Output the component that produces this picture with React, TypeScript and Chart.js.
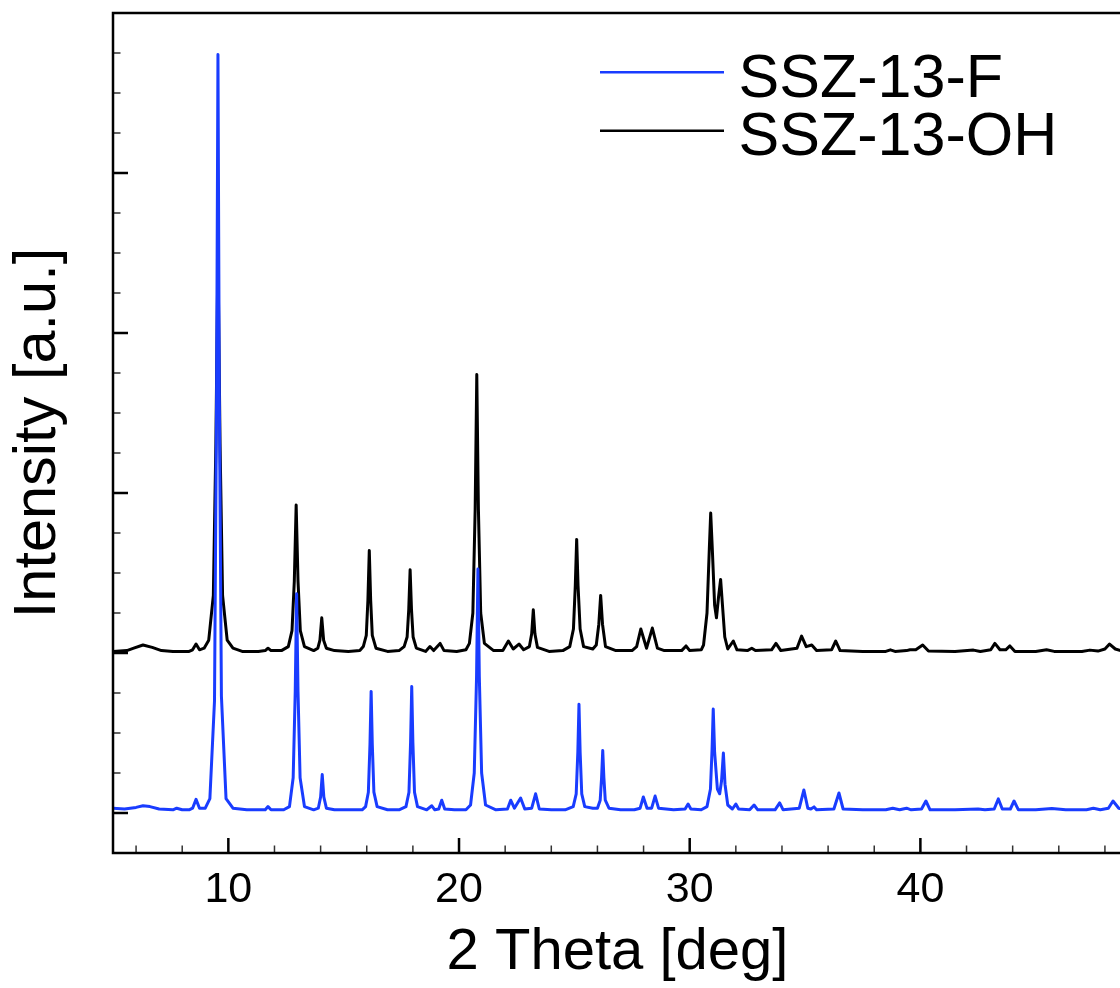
import React, { useEffect, useRef } from 'react';
import { Chart, registerables } from 'chart.js';

Chart.register(...registerables);

// ---------- data ----------
const seriesLabels = ['SSZ-13-F', 'SSZ-13-OH'];
const seriesColors = ['rgb(25,60,255)', '#000000'];

// [2θ (deg), intensity (a.u., offset)]
const ssz13F: [number, number][] = [
  [5.0, 0.03], [5.5, 0.025], [6.0, 0.035], [6.3, 0.045], [6.6, 0.04], [7.0, 0.025], [7.6, 0.02],
  [7.76, 0.03], [8.0, 0.02], [8.3, 0.02], [8.45, 0.03], [8.6, 0.085], [8.75, 0.03], [9.0, 0.03],
  [9.2, 0.09], [9.4, 0.7], [9.49, 2.6], [9.55, 4.74], [9.61, 2.6], [9.7, 0.73], [9.9, 0.09],
  [10.2, 0.03], [10.8, 0.02], [11.3, 0.02], [11.6, 0.02], [11.72, 0.04], [11.85, 0.02], [12.4, 0.02],
  [12.65, 0.04], [12.81, 0.22], [12.9, 0.76], [12.96, 1.37], [13.02, 0.76], [13.11, 0.22], [13.3, 0.04],
  [13.7, 0.02], [13.9, 0.03], [14.0, 0.1], [14.07, 0.24], [14.14, 0.1], [14.25, 0.03], [14.6, 0.02],
  [15.2, 0.02], [15.8, 0.02], [15.95, 0.04], [16.07, 0.13], [16.14, 0.43], [16.19, 0.76], [16.24, 0.43],
  [16.31, 0.13], [16.45, 0.04], [16.9, 0.02], [17.4, 0.02], [17.7, 0.04], [17.83, 0.13], [17.9, 0.44],
  [17.95, 0.79], [18.0, 0.44], [18.07, 0.13], [18.2, 0.04], [18.6, 0.02], [18.82, 0.045], [18.95, 0.02],
  [19.12, 0.025], [19.25, 0.08], [19.38, 0.025], [19.8, 0.02], [20.3, 0.02], [20.5, 0.05], [20.66, 0.25],
  [20.76, 0.85], [20.82, 1.525], [20.88, 0.85], [20.98, 0.25], [21.15, 0.05], [21.6, 0.02], [22.1, 0.025],
  [22.24, 0.08], [22.4, 0.03], [22.67, 0.094], [22.85, 0.025], [23.15, 0.03], [23.32, 0.12], [23.48, 0.025],
  [24.0, 0.02], [24.6, 0.02], [24.95, 0.04], [25.08, 0.12], [25.15, 0.38], [25.2, 0.68], [25.25, 0.38],
  [25.32, 0.12], [25.45, 0.04], [25.8, 0.03], [26.0, 0.03], [26.12, 0.08], [26.18, 0.22], [26.23, 0.39],
  [26.28, 0.22], [26.34, 0.08], [26.5, 0.03], [27.0, 0.02], [27.6, 0.02], [27.85, 0.03], [27.99, 0.1],
  [28.15, 0.03], [28.35, 0.03], [28.5, 0.106], [28.65, 0.03], [29.3, 0.02], [29.8, 0.025], [29.93, 0.056],
  [30.05, 0.025], [30.5, 0.02], [30.75, 0.04], [30.9, 0.15], [30.97, 0.4], [31.02, 0.65], [31.08, 0.38],
  [31.2, 0.15], [31.3, 0.12], [31.38, 0.2], [31.46, 0.375], [31.53, 0.18], [31.65, 0.05], [31.85, 0.025],
  [32.0, 0.056], [32.12, 0.025], [32.6, 0.02], [32.79, 0.05], [32.95, 0.02], [33.7, 0.02], [33.9, 0.063],
  [34.05, 0.02], [34.75, 0.03], [34.95, 0.144], [35.12, 0.03], [35.25, 0.025], [35.39, 0.038], [35.5, 0.02],
  [36.25, 0.025], [36.47, 0.125], [36.65, 0.025], [37.5, 0.02], [38.5, 0.02], [38.8, 0.03], [39.1, 0.02],
  [39.4, 0.03], [39.6, 0.02], [40.05, 0.025], [40.24, 0.075], [40.42, 0.02], [41.5, 0.02], [42.5, 0.025],
  [42.8, 0.02], [43.2, 0.025], [43.38, 0.088], [43.55, 0.025], [43.9, 0.025], [44.06, 0.075], [44.25, 0.02],
  [45.0, 0.02], [45.7, 0.028], [46.3, 0.02], [47.2, 0.02], [47.5, 0.03], [47.8, 0.02], [48.15, 0.03],
  [48.35, 0.075], [48.6, 0.03], [48.9, 0.02],
];

const ssz13OH: [number, number][] = [
  [5.0, 1.01], [5.6, 1.015], [5.9, 1.03], [6.3, 1.05], [6.7, 1.035], [7.1, 1.015], [7.6, 1.01],
  [8.3, 1.01], [8.45, 1.02], [8.6, 1.056], [8.75, 1.02], [8.95, 1.03], [9.15, 1.08], [9.35, 1.36],
  [9.46, 2.31], [9.55, 3.51], [9.64, 2.31], [9.75, 1.36], [9.95, 1.08], [10.2, 1.03], [10.6, 1.01],
  [11.3, 1.01], [11.6, 1.015], [11.72, 1.03], [11.85, 1.015], [12.3, 1.015], [12.6, 1.04], [12.76, 1.14],
  [12.86, 1.45], [12.94, 1.925], [13.02, 1.45], [13.12, 1.14], [13.3, 1.04], [13.7, 1.015], [13.88, 1.03],
  [13.97, 1.08], [14.05, 1.22], [14.13, 1.08], [14.25, 1.03], [14.6, 1.015], [15.2, 1.01], [15.7, 1.015],
  [15.85, 1.04], [15.98, 1.11], [16.05, 1.33], [16.11, 1.64], [16.17, 1.33], [16.24, 1.11], [16.4, 1.03],
  [16.9, 1.01], [17.4, 1.015], [17.62, 1.04], [17.75, 1.1], [17.82, 1.27], [17.88, 1.52], [17.94, 1.27],
  [18.01, 1.1], [18.15, 1.03], [18.55, 1.01], [18.74, 1.04], [18.9, 1.015], [19.18, 1.06], [19.35, 1.015],
  [19.9, 1.01], [20.3, 1.02], [20.45, 1.06], [20.6, 1.25], [20.7, 1.9], [20.77, 2.74], [20.84, 1.9],
  [20.94, 1.25], [21.1, 1.06], [21.5, 1.015], [21.9, 1.015], [22.14, 1.075], [22.35, 1.025], [22.6, 1.056],
  [22.8, 1.02], [23.05, 1.04], [23.15, 1.12], [23.22, 1.27], [23.29, 1.12], [23.4, 1.035], [23.9, 1.01],
  [24.5, 1.015], [24.8, 1.04], [24.96, 1.15], [25.04, 1.42], [25.1, 1.71], [25.16, 1.42], [25.25, 1.15],
  [25.4, 1.04], [25.8, 1.025], [25.95, 1.05], [26.06, 1.18], [26.14, 1.36], [26.22, 1.18], [26.35, 1.04],
  [26.8, 1.015], [27.5, 1.015], [27.7, 1.04], [27.88, 1.15], [28.13, 1.03], [28.38, 1.156], [28.6, 1.03],
  [28.9, 1.015], [29.65, 1.015], [29.84, 1.044], [30.0, 1.015], [30.5, 1.02], [30.6, 1.05], [30.75, 1.25],
  [30.85, 1.65], [30.91, 1.875], [30.98, 1.65], [31.08, 1.3], [31.16, 1.22], [31.25, 1.35], [31.34, 1.46],
  [31.42, 1.3], [31.52, 1.1], [31.65, 1.025], [31.89, 1.075], [32.05, 1.02], [32.5, 1.015], [32.69, 1.03],
  [32.85, 1.015], [33.55, 1.02], [33.74, 1.06], [33.95, 1.015], [34.65, 1.03], [34.85, 1.106], [35.05, 1.04],
  [35.29, 1.05], [35.5, 1.015], [36.15, 1.02], [36.33, 1.075], [36.52, 1.015], [37.5, 1.01], [38.5, 1.01],
  [38.7, 1.02], [38.9, 1.01], [39.4, 1.015], [39.55, 1.02], [39.8, 1.02], [40.1, 1.05], [40.35, 1.012],
  [41.5, 1.01], [42.3, 1.018], [42.6, 1.01], [43.05, 1.02], [43.23, 1.06], [43.45, 1.02], [43.7, 1.02],
  [43.88, 1.044], [44.1, 1.01], [45.0, 1.01], [45.47, 1.02], [45.8, 1.01], [47.0, 1.01], [47.35, 1.018],
  [47.7, 1.012], [48.0, 1.025], [48.2, 1.056], [48.45, 1.025], [48.8, 1.01],
];

const xRange = [5, 48.74];
const yRange = [-0.25, 5];
const xMajorTicks = [10, 20, 30, 40];
const xMinorTicks = [6, 8, 12, 14, 16, 18, 22, 24, 26, 28, 32, 34, 36, 38, 42, 44, 46, 48];
const yMajorTicks = [0, 1, 2, 3, 4];
const yMinorTicks = [0.25, 0.5, 0.75, 1.25, 1.5, 1.75, 2.25, 2.5, 2.75, 3.25, 3.5, 3.75, 4.25, 4.5, 4.75];
const xTitle = '2 Theta [deg]';
const yTitle = 'Intensity [a.u.]';

const FONT = "'Liberation Sans', Arial, Helvetica, sans-serif";

const framePlugin = {
  id: 'frameTicksLegend',
  afterDraw(chart: any) {
    const { ctx, chartArea: a, scales } = chart;
    const xs = scales.x;
    const ys = scales.y;
    ctx.save();
    const drawX = (vals: number[], len: number, w: number) => {
      ctx.lineWidth = w;
      ctx.beginPath();
      vals.forEach((v) => {
        const px = xs.getPixelForValue(v);
        ctx.moveTo(px, a.bottom);
        ctx.lineTo(px, a.bottom - len);
      });
      ctx.stroke();
    };
    const drawY = (vals: number[], len: number, w: number) => {
      ctx.lineWidth = w;
      ctx.beginPath();
      vals.forEach((v) => {
        const py = ys.getPixelForValue(v);
        ctx.moveTo(a.left, py);
        ctx.lineTo(a.left + len, py);
      });
      ctx.stroke();
    };
    ctx.strokeStyle = '#333';
    drawX(xMinorTicks, 7.5, 1.5);
    drawY(yMinorTicks, 7.5, 1.5);
    ctx.strokeStyle = '#000';
    drawX(xMajorTicks, 15, 2.5);
    drawY(yMajorTicks, 15, 2.5);
    // frame
    ctx.lineWidth = 2.5;
    ctx.strokeRect(a.left, a.top, a.right - a.left, a.bottom - a.top);
    // legend
    const lx0 = 592;
    const lx1 = 716;
    const tx = 730.6;
    const baselines = [88.7, 147.1];
    ctx.font = `61px ${FONT}`;
    ctx.textBaseline = 'alphabetic';
    ctx.textAlign = 'left';
    chart.data.datasets.forEach((ds: any, i: number) => {
      const by = baselines[i];
      ctx.strokeStyle = ds.borderColor;
      ctx.lineWidth = 2.5;
      ctx.beginPath();
      ctx.moveTo(lx0, by - 24.4);
      ctx.lineTo(lx1, by - 24.4);
      ctx.stroke();
      ctx.fillStyle = '#000';
      ctx.fillText(ds.label, tx, by);
    });
    ctx.restore();
  },
};

export default function App() {
  const ref = useRef<HTMLCanvasElement | null>(null);
  useEffect(() => {
    if (!ref.current) return;
    Chart.defaults.font.family = FONT;
    const chart = new Chart(ref.current, {
      type: 'line',
      data: {
        datasets: [
          {
            label: seriesLabels[0],
            data: ssz13F.map(([x, y]) => ({ x, y })),
            borderColor: seriesColors[0],
            backgroundColor: seriesColors[0],
            borderWidth: 3,
            borderJoinStyle: 'round',
            pointRadius: 0,
            tension: 0,
            fill: false,
          },
          {
            label: seriesLabels[1],
            data: ssz13OH.map(([x, y]) => ({ x, y })),
            borderColor: seriesColors[1],
            backgroundColor: seriesColors[1],
            borderWidth: 3,
            borderJoinStyle: 'round',
            pointRadius: 0,
            tension: 0,
            fill: false,
          },
        ],
      },
      options: {
        animation: false,
        responsive: false,
        parsing: false as any,
        layout: { padding: { top: 5, left: 0, right: 2, bottom: 6.5 } },
        plugins: { legend: { display: false }, tooltip: { enabled: false } },
        scales: {
          x: {
            type: 'linear',
            min: xRange[0],
            max: xRange[1],
            afterBuildTicks: (s: any) => {
              s.ticks = xMajorTicks.map((v) => ({ value: v }));
            },
            grid: { display: false, drawTicks: false },
            border: { display: false },
            ticks: {
              color: '#000',
              font: { size: 43, lineHeight: 1 },
              padding: 16,
              maxRotation: 0,
              autoSkip: false,
            },
            title: {
              display: true,
              text: xTitle,
              color: '#000',
              font: { size: 58, lineHeight: 1 },
              padding: { top: -4.5, bottom: 0 },
            },
          },
          y: {
            type: 'linear',
            min: yRange[0],
            max: yRange[1],
            grid: { display: false, drawTicks: false },
            border: { display: false },
            ticks: { display: false },
            title: {
              display: true,
              text: yTitle,
              color: '#000',
              font: { size: 59.5, lineHeight: 1 },
              padding: { top: 0.5, bottom: 45 },
            },
          },
        },
      },
      plugins: [framePlugin],
    } as any);
    return () => chart.destroy();
  }, []);
  return (
    <div style={{ position: 'fixed', left: 8, top: 8, width: 1116, height: 980 }}>
      <canvas ref={ref} width={1116} height={980} style={{ display: 'block' }} />
    </div>
  );
}
